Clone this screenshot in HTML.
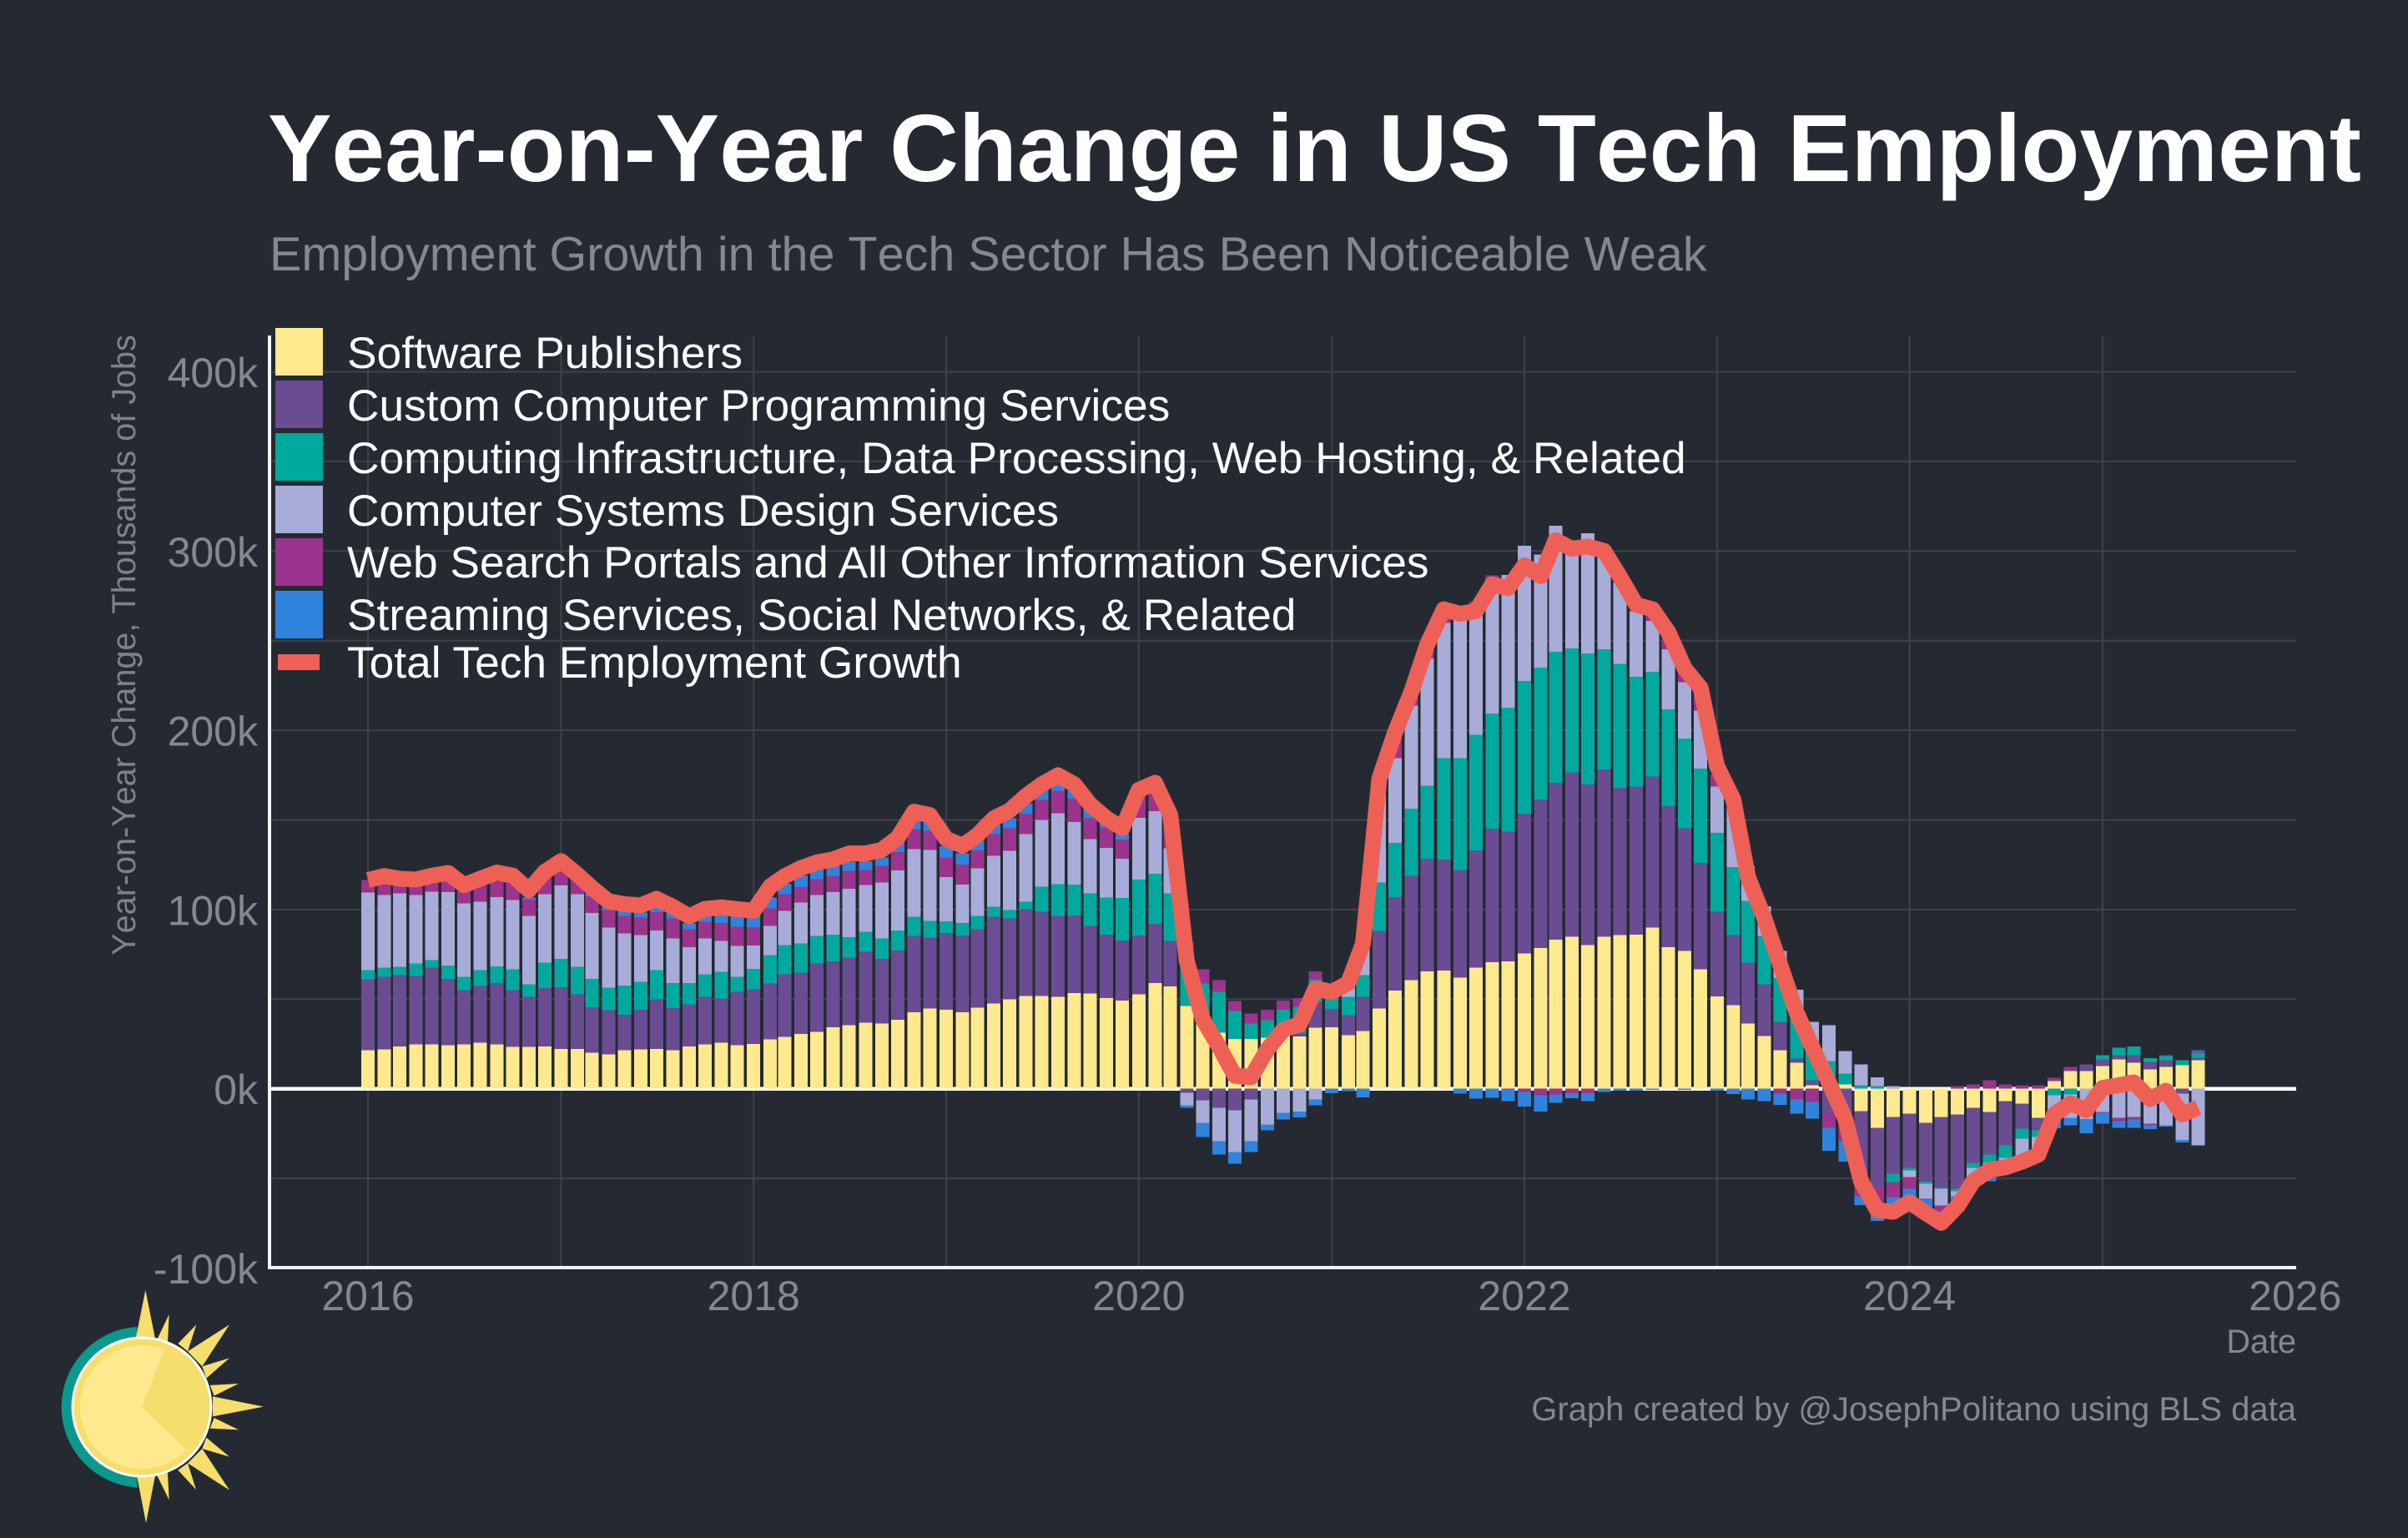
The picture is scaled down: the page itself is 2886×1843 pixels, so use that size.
<!DOCTYPE html>
<html lang="en">
<head>
<meta charset="utf-8">
<title>Year-on-Year Change in US Tech Employment</title>
<style>
html,body{margin:0;padding:0;background:#252A32;}
svg{display:block;}
text{font-family:"Liberation Sans",Arial,sans-serif;font-kerning:none;}
#legend text{font-kerning:normal;}
</style>
</head>
<body>
<svg id="chart" xmlns="http://www.w3.org/2000/svg" width="2886" height="1843" viewBox="0 0 2886 1843">
  <rect x="0" y="0" width="2886" height="1843" fill="#252A32"/>
  <text x="321" y="217" font-size="114.6" font-weight="700" fill="#FFFFFF">Year-on-Year Change in US Tech Employment</text>
  <text x="323" y="324" font-size="57.5" fill="#858890">Employment Growth in the Tech Sector Has Been Noticeable Weak</text>

  <g id="grid"></g>
  <line x1="323" x2="2752" y1="1304.7" y2="1304.7" stroke="#FFFFFF" stroke-width="4.5"/>
  <g id="bars" shape-rendering="crispEdges"></g>
  <path id="totalLine" fill="none" stroke="#EE6055" stroke-width="19" stroke-linejoin="round" stroke-linecap="butt"/>

  <line x1="323" x2="323" y1="402" y2="1521" stroke="#F2F2F2" stroke-width="4"/>
  <line x1="321" x2="2752" y1="1519" y2="1519" stroke="#F2F2F2" stroke-width="4"/>
  <g id="yTicks"></g>
  <g id="xTicks"></g>
  <text transform="translate(162,773) rotate(-90)" text-anchor="middle" font-size="39.6" fill="#7F828A">Year-on-Year Change, Thousands of Jobs</text>
  <text x="2752" y="1621" text-anchor="end" font-size="39.6" fill="#858890">Date</text>
  <text x="2752" y="1702" text-anchor="end" font-size="40" fill="#858890">Graph created by @JosephPolitano using BLS data</text>

  <g id="legend" font-size="53.3" fill="#FFFFFF">
    <g>
      <rect x="330" y="393" width="57" height="57" fill="#FFE98F"/>
      <text x="416" y="441">Software Publishers</text>
    </g>
    <g>
      <rect x="330" y="456" width="57" height="57" fill="#6A4C93"/>
      <text x="416" y="504">Custom Computer Programming Services</text>
    </g>
    <g>
      <rect x="330" y="519" width="57" height="57" fill="#00A99D"/>
      <text x="416" y="567">Computing Infrastructure, Data Processing, Web Hosting, &amp; Related</text>
    </g>
    <g>
      <rect x="330" y="582" width="57" height="57" fill="#A7ACD9"/>
      <text x="416" y="630">Computer Systems Design Services</text>
    </g>
    <g>
      <rect x="330" y="645" width="57" height="57" fill="#9A348E"/>
      <text x="416" y="692">Web Search Portals and All Other Information Services</text>
    </g>
    <g>
      <rect x="330" y="708" width="57" height="57" fill="#3083DC"/>
      <text x="416" y="755">Streaming Services, Social Networks, &amp; Related</text>
    </g>
    <g>
      <rect x="333" y="784" width="50" height="19" fill="#EE6055"/>
      <text x="416" y="812">Total Tech Employment Growth</text>
    </g>
  </g>

  <g transform="translate(40,1500) scale(0.33333)">
    <path d="M373 270 A289 289 0 0 0 373 847 Z" fill="#0A998C"/>
    <g fill="#F5DE6B">
      <polygon points="368,312 403,138 438,312"/>
      <polygon points="445,315 488,225 483,325"/>
      <polygon points="520,330 586,262 555,358"/>
      <polygon points="555,358 705,262 607,412"/>
      <polygon points="607,412 705,382 622,455"/>
      <polygon points="635,480 738,474 650,518"/>
      <polygon points="645,520 828,557 645,592"/>
      <polygon points="650,597 738,640 635,635"/>
      <polygon points="622,668 705,737 607,708"/>
      <polygon points="607,708 705,857 555,760"/>
      <polygon points="555,760 585,855 520,785"/>
      <polygon points="483,795 488,892 445,805"/>
      <polygon points="438,805 405,975 372,805"/>
    </g>
    <circle cx="390" cy="558" r="249" fill="#F5DE6B" stroke="#FFFFFF" stroke-width="9"/>
    <path d="M390 558 L470 352 A222 222 0 1 0 550 712 Z" fill="#FFE98F"/>
  </g>
</svg>
<script>
const months = [
"2016-01","2016-02","2016-03","2016-04","2016-05","2016-06","2016-07","2016-08","2016-09","2016-10","2016-11","2016-12",
"2017-01","2017-02","2017-03","2017-04","2017-05","2017-06","2017-07","2017-08","2017-09","2017-10","2017-11","2017-12",
"2018-01","2018-02","2018-03","2018-04","2018-05","2018-06","2018-07","2018-08","2018-09","2018-10","2018-11","2018-12",
"2019-01","2019-02","2019-03","2019-04","2019-05","2019-06","2019-07","2019-08","2019-09","2019-10","2019-11","2019-12",
"2020-01","2020-02","2020-03","2020-04","2020-05","2020-06","2020-07","2020-08","2020-09","2020-10","2020-11","2020-12",
"2021-01","2021-02","2021-03","2021-04","2021-05","2021-06","2021-07","2021-08","2021-09","2021-10","2021-11","2021-12",
"2022-01","2022-02","2022-03","2022-04","2022-05","2022-06","2022-07","2022-08","2022-09","2022-10","2022-11","2022-12",
"2023-01","2023-02","2023-03","2023-04","2023-05","2023-06","2023-07","2023-08","2023-09","2023-10","2023-11","2023-12",
"2024-01","2024-02","2024-03","2024-04","2024-05","2024-06","2024-07","2024-08","2024-09","2024-10","2024-11","2024-12",
"2025-01","2025-02","2025-03","2025-04","2025-05","2025-06","2025-07"];

const softwarePublishers = [
21.4,21.9,23.7,24.7,24.7,24.2,24.7,25.6,24.7,23.3,23.3,23.7,22.3,22.3,20,19.1,21.4,21.9,22.3,21.4,23.7,24.7,25.6,24.2,
25.1,27.5,28.9,30.7,31.7,34.4,35.4,36.8,36.3,38.6,42.8,44.7,44.2,42.8,45.2,47.5,49.8,51.7,51.7,51.2,53.5,53.1,50.7,49.3,
52.6,59.1,57.2,46.1,36,31.2,27.9,27.9,28.4,29.8,29.3,34,34.4,29.8,32.1,44.7,54.9,60.5,65.6,66,62,67.5,70.7,71.2,
75.4,78.6,83.3,84.8,80.1,84.8,85.7,86.1,90,79.1,76.9,66.7,51.5,46.7,36.5,29.5,21.6,14.6,2,0,2.5,-12.4,-21.7,-15.7,
-13.8,-18.9,-15.7,-14.3,-10.6,-12.9,-6.8,-8.2,-16.1,4.3,9.9,9.9,12.7,16.4,14.6,10.9,12.3,13.2,16];

const customProgramming = [
39.6,40.5,39.6,38.2,42.8,37.2,30.3,31.7,34.4,31.7,27.9,32.6,34.4,30.3,25.6,24.7,20,22.3,27.5,23.7,23.3,26.5,24.7,29.8,
30.3,31.2,34.9,34,38.2,36.8,37.7,39.6,36.3,38.6,42.4,39.6,42.8,42.8,43.8,48.4,45.2,48.4,47,45.2,43.3,37.7,35.4,33.5,
33,33,25.2,-2.3,-6.5,-10.7,-12.1,-6,0,0,1.5,14.4,10.2,11.2,19.1,43.4,52.1,58.3,62.8,62,60,65.6,74.4,72.2,
78.2,82.9,87.4,91.7,89.7,93.4,82.3,82.5,84.2,78.6,68.4,59.4,47.4,39.1,34,28.9,15.8,2.3,2.8,-13.8,-20,-42.7,-33.4,-31.7,
-30.3,-33,-39.6,-41.4,-30.7,-23.7,-24.7,-14,-7,0,0,3.7,3.7,2.3,4.2,4.2,3.7,-2.6,1.4];

const computingInfrastructure = [
5.1,5.1,4.7,7,4.2,7.4,7.4,8.8,9.3,11.6,7,14,15.8,15.4,15.8,12.6,16.3,15.4,16.3,14,12.1,12.6,14.9,8.4,
11.6,15.8,16.3,16.3,15.4,14.9,11.6,11.2,11.2,11.2,10.7,9.3,6.5,7,7.4,5.6,4.7,4.2,14,17.7,17.2,18.2,20.5,23.7,
31.2,27.9,26.6,28,22.7,22.8,15.4,8.4,9.8,14.4,15,12.4,9,10.2,12.1,26.9,30.3,37.6,40.6,56.4,62.4,64.3,64.3,69.2,
73.9,73.5,73.1,69.2,73.1,67.1,69,61.3,58.5,54.1,50.2,52.6,43.8,38,34.4,27,24.4,26.8,20,15.5,6,2,1.6,-4.7,
-1.4,-1,-0.5,-1.4,-2.8,-4.7,-7,-5.6,-3.7,-3.6,-3.1,0,2.3,4.2,4.7,1.9,2.3,2.8,2.8];

const systemsDesign = [
43.3,40.5,41,38.2,38.2,41,41,38.2,38.6,38.6,38.2,38.2,41,40.5,36.8,33.5,28.9,26.1,22.3,24.7,20,20,17.2,17.2,
13,16.3,19.1,22.8,22.8,23.7,27,26.1,31.2,33.5,37.7,39.6,24.7,21.4,26.5,28.4,33.1,37.7,37.2,39.6,34.9,30.3,27.9,21.9,
34.4,34.9,25.2,-7,-12.6,-18.6,-23.3,-23.3,-20,-13.5,-12.6,-6,0,9,22.4,56.4,47.2,57.3,71.2,75.4,77.8,72.6,75.2,74.1,
75.4,63,70.3,60.3,67.1,53.2,45.5,36.5,28.4,33.3,31.2,32.3,26,40,19.5,16.4,15.2,11.6,12.6,20,12.6,11.6,4.7,1.6,
-3.7,-8.4,-9.3,-2.8,-5.1,-3.3,-6,-10.5,-8.4,-13,-13,-17,-12.9,-16.1,-15.7,-19.4,-20.3,-26,-31.5];

const webSearch = [
7,6.4,4.7,5.6,5.3,6.1,7.1,9.3,8.8,9.9,9.2,9.8,8.5,8.2,9.3,9.8,9.8,9.8,10.2,11.2,9.8,9.3,10.2,10.7,
10.2,9.8,9.3,8.8,8.8,8.8,9.8,8.4,9.3,10.2,11.2,10.7,10.7,11.2,10.2,12.1,12.6,11.6,11.2,12.6,13,11.6,11.2,10.7,
12,10.2,12,7.5,7.9,6.5,5.6,5.6,6,5.1,4.7,4.8,0,0,0,0,11.3,4.7,6,4.5,0,1.7,1.7,-0.4,
-1.7,-3.6,-3.2,-2.4,-2.4,0,0,0,3.2,9.6,7.7,8.5,6.6,0,0,0,-2.6,-5.9,-7.4,-7.9,-9,-4.9,-10,-8.4,
-6.5,-0.5,-3.5,1.6,2.5,4.8,2.5,2,1.9,1.9,2.3,0,-0.5,-1.9,-1.4,-0.9,0.5,0,0.9];

const streaming = [
0,0,0,0,0,0,0,0,0,0.8,1.1,1.2,0,0.8,3.3,2.3,2.9,2.9,2.5,3.1,3.4,3.4,4.2,5.9,
6.2,6.1,5.9,6.4,5.6,5.7,5.3,4.8,4.8,5.4,6.1,5.7,6.4,6.2,5.3,5.7,5.6,5.7,6.1,4,5.1,4.7,3.6,3.1,
0.8,0.3,0,-1.4,-7.9,-7.4,-6.5,-6,-3.3,-3.7,-3.3,-3.3,-2.5,-1.4,-4.7,0,0,0,0,0,-2.8,-5.5,-5.1,-6.5,
-8.1,-9,-4.7,-2.8,-4.5,-1.7,-1,-1,-0.6,0,-0.6,0,-1.1,-3,-5.9,-6.8,-6.5,-7.9,-9.3,-13,-11.6,-4.9,-8.6,-6,
-7.5,-5,-3,-6.4,-3,-7,-3,-2.5,-2,-5.4,-4.2,-7.9,-6,-3.7,-4.7,-2.3,-0.9,-1.4,0.5];

const totalGrowth = [
116.5,118.7,117.2,116.7,118.9,120.4,113.6,117.2,120.6,119,110.8,121,127,119.5,112,104.6,103,102.3,106,101.5,96.2,100.4,101.2,100.2,
99.3,112.8,118.6,123.2,126.3,128,131.3,131.3,133.3,140,154.6,152.7,139.4,135.6,141.5,150.8,155.2,163.3,169.8,174.9,169.8,158.6,150.8,145.4,
166.7,170.7,152.5,71.3,39,23.6,7.3,6.5,22,33,36,56,54,59,81,173,199,221.6,248,267.5,265,266.5,281.4,279.3,
292,286,306,301.3,302.6,300,285.7,270,267.5,254.7,234.4,223.7,180,161.5,118,95,69,42.4,23,3.6,-16.6,-51.5,-67.8,-68.6,
-63.2,-69.4,-74.8,-65.5,-51.5,-45.3,-43.8,-40.7,-36.8,-14.3,-8.1,-11.9,0.5,2,3.6,-5.7,-1.1,-14.3,-10.4];

const seriesNames = ["software","custom-programming","computing-infrastructure","systems-design","web-search","streaming"];
const seriesColors = ["#FFE98F","#6A4C93","#00A99D","#A7ACD9","#9A348E","#3083DC"];
const seriesValues = [softwarePublishers,customProgramming,computingInfrastructure,systemsDesign,webSearch,streaming];

const yTickValues = [-100,0,100,200,300,400];
const yTickLabels = ["-100k","0k","100k","200k","300k","400k"];
const yGridValues = [-50,0,50,100,150,200,250,300,350,400];
const xGridYears = ["2016","2017","2018","2019","2020","2021","2022","2023","2024","2025"];
const xTickYears = ["2016","2018","2020","2022","2024","2026"];

const SVG_NS = "http://www.w3.org/2000/svg";
const DAY_MS = 86400000;
const ORIGIN_MS = Date.UTC(2016,0,1);
function xScale(dateText){
  const parts = dateText.split("-");
  const year = Number(parts[0]);
  const month = parts.length > 1 ? Number(parts[1]) - 1 : 0;
  const days = (Date.UTC(year,month,1) - ORIGIN_MS) / DAY_MS;
  return 441 + days * 0.6323;
}
function yScale(value){
  return 1304.7 - value * 2.148;
}

const gridGroup = document.getElementById("grid");
yGridValues.forEach(function(v){
  const line = document.createElementNS(SVG_NS,"line");
  line.setAttribute("x1",323);
  line.setAttribute("x2",2752);
  line.setAttribute("y1",yScale(v));
  line.setAttribute("y2",yScale(v));
  line.setAttribute("stroke","#3E424A");
  line.setAttribute("stroke-width",2);
  
  
  gridGroup.appendChild(line);
});
xGridYears.forEach(function(y){
  const line = document.createElementNS(SVG_NS,"line");
  line.setAttribute("x1",xScale(y));
  line.setAttribute("x2",xScale(y));
  line.setAttribute("y1",402);
  line.setAttribute("y2",1519);
  line.setAttribute("stroke","#3E424A");
  line.setAttribute("stroke-width",2);
  
  
  gridGroup.appendChild(line);
});

const barsGroup = document.getElementById("bars");
const BAR_WIDTH = 16;
months.forEach(function(m,i){
  let up = 0;
  let down = 0;
  const cx = xScale(m);
  seriesValues.forEach(function(values,s){
    const v = values[i];
    if(!v){ return; }
    let top, bottom;
    if(v > 0){
      top = yScale(up + v);
      bottom = yScale(up);
      up += v;
    } else {
      top = yScale(down);
      bottom = yScale(down + v);
      down += v;
    }
    const rect = document.createElementNS(SVG_NS,"rect");
    rect.setAttribute("x",cx - BAR_WIDTH / 2);
    rect.setAttribute("width",BAR_WIDTH);
    rect.setAttribute("y",top);
    rect.setAttribute("height",bottom - top);
    rect.setAttribute("fill",seriesColors[s]);
    
    
    barsGroup.appendChild(rect);
  });
});

const linePoints = months.map(function(m,i){
  return (i ? "L" : "M") + xScale(m).toFixed(2) + " " + yScale(totalGrowth[i]).toFixed(2);
});
document.getElementById("totalLine").setAttribute("d",linePoints.join(" "));

const yTickGroup = document.getElementById("yTicks");
yTickValues.forEach(function(v,i){
  const t = document.createElementNS(SVG_NS,"text");
  t.setAttribute("x",309);
  t.setAttribute("y",yScale(v) + 18.5);
  t.setAttribute("text-anchor","end");
  t.setAttribute("font-size",50);
  t.setAttribute("fill","#858890");
  t.textContent = yTickLabels[i];
  
  
  yTickGroup.appendChild(t);
});
const xTickGroup = document.getElementById("xTicks");
xTickYears.forEach(function(y){
  const t = document.createElementNS(SVG_NS,"text");
  t.setAttribute("x",xScale(y));
  t.setAttribute("y",1570);
  t.setAttribute("text-anchor","middle");
  t.setAttribute("font-size",50);
  t.setAttribute("fill","#858890");
  t.textContent = y;
  
  
  xTickGroup.appendChild(t);
});
</script>
</body>
</html>
